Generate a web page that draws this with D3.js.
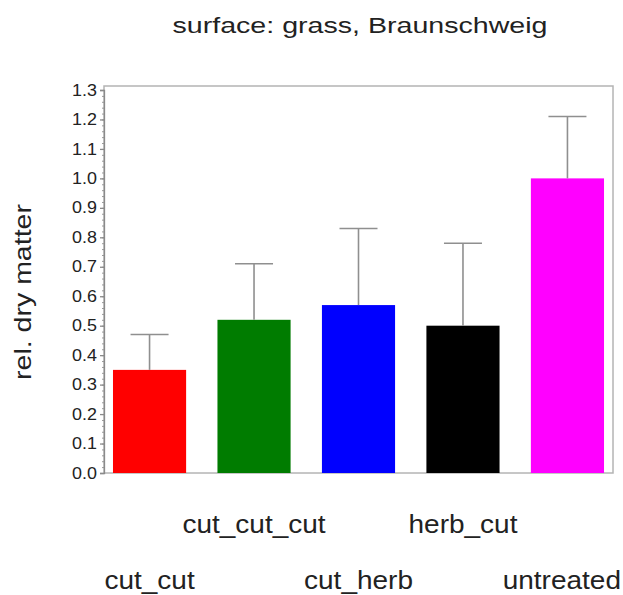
<!DOCTYPE html>
<html>
<head>
<meta charset="utf-8">
<script src="https://cdn.jsdelivr.net/npm/d3@7"></script>
<style>
  html, body { margin: 0; padding: 0; background: #fff; }
  svg { display: block; }
  text { font-family: "Liberation Sans", Arial, sans-serif; fill: #222; }
</style>
</head>
<body>
<svg id="chart" width="623" height="595"></svg>
<script>
// Treatments, their mean relative dry matter and upper error (sd)
const treatments = ["cut_cut", "cut_cut_cut", "cut_herb", "herb_cut", "untreated"];
const means = [0.35, 0.52, 0.57, 0.50, 1.00];
const sds = [0.12, 0.19, 0.26, 0.28, 0.21];
const barColors = ["#ff0000", "#007c00", "#0000ff", "#000000", "#ff00ff"];
const yTicks = [0.0, 0.1, 0.2, 0.3, 0.4, 0.5, 0.6, 0.7, 0.8, 0.9, 1.0, 1.1, 1.2, 1.3];
const titleText = "surface: grass, Braunschweig";
const yLabel = "rel. dry matter";

const W = 623;
const svg = d3.select("#chart");

const plot = { left: 104, right: 613, top: 86, bottom: 473 };

const x = d3.scaleBand()
  .domain(treatments)
  .range([plot.left, plot.right])
  .paddingInner(0.30)
  .paddingOuter(0.086);

const y = d3.scaleLinear()
  .domain([0, 1.3])
  .range([473, 90]);

// plot frame
svg.append("rect")
  .attr("x", plot.left).attr("y", plot.top)
  .attr("width", plot.right - plot.left)
  .attr("height", plot.bottom - plot.top)
  .attr("fill", "none")
  .attr("stroke", "#b4b4b4")
  .attr("stroke-width", 1.5);

// bars
svg.selectAll("rect.bar")
  .data(treatments)
  .join("rect")
  .attr("class", "bar")
  .attr("x", d => x(d))
  .attr("width", x.bandwidth())
  .attr("y", (d, i) => y(means[i]))
  .attr("height", (d, i) => y(0) - y(means[i]))
  .attr("fill", (d, i) => barColors[i]);

// upper error bars
const capHalf = 19;
const err = svg.append("g")
  .attr("stroke", "#8f8f8f")
  .attr("stroke-width", 1.6);
treatments.forEach((t, i) => {
  const cx = x(t) + x.bandwidth() / 2;
  err.append("line")
    .attr("x1", cx).attr("x2", cx)
    .attr("y1", y(means[i])).attr("y2", y(means[i] + sds[i]));
  err.append("line")
    .attr("x1", cx - capHalf).attr("x2", cx + capHalf)
    .attr("y1", y(means[i] + sds[i])).attr("y2", y(means[i] + sds[i]));
});

// y axis with minor ticks
const minorTicks = d3.range(0, 1.3001, 0.02);
svg.append("g")
  .attr("transform", `translate(${plot.left},0)`)
  .call(d3.axisLeft(y).tickValues(minorTicks).tickSize(2).tickFormat(""))
  .call(g => g.select(".domain").remove())
  .call(g => g.selectAll("line").attr("stroke", "#9a9a9a"));

const yAxis = svg.append("g")
  .attr("transform", `translate(${plot.left},0)`)
  .call(d3.axisLeft(y).tickValues(yTicks).tickSize(4).tickPadding(3).tickFormat(d3.format(".1f")));
yAxis.select(".domain").attr("stroke", "#8a8a8a").attr("stroke-width", 1.3);
yAxis.selectAll(".tick line").attr("stroke", "#8a8a8a").attr("stroke-width", 1.3);
yAxis.selectAll(".tick text")
  .attr("font-size", 16)
  .attr("fill", "#555")
  .style("font-family", "'Liberation Sans', Arial, sans-serif")
  .each(function () {
    const t = d3.select(this);
    const xx = +t.attr("x");
    t.attr("x", null)
     .attr("transform", `translate(${xx},0) scale(1.12,1)`);
  });

// category labels, staggered on two rows, kept inside the page
const rowBase = [533, 589];
const labelScale = 1.12;
svg.selectAll("text.cat")
  .data(treatments)
  .join("text")
  .attr("class", "cat")
  .attr("text-anchor", "middle")
  .attr("font-size", 25)
  .each(function (d, i) {
    const t = d3.select(this).text(d);
    let cx = x(d) + x.bandwidth() / 2;
    const half = this.getComputedTextLength() * labelScale / 2;
    if (cx + half > W - 2) cx = W - 2 - half;
    t.attr("transform", `translate(${cx},${rowBase[(i + 1) % 2]}) scale(${labelScale},1)`);
  });

// title
svg.append("text")
  .attr("text-anchor", "middle")
  .attr("font-size", 22)
  .attr("transform", "translate(360,33) scale(1.3,1)")
  .text(titleText);

// y axis title
svg.append("text")
  .attr("text-anchor", "middle")
  .attr("font-size", 23)
  .attr("transform", "translate(31,292) rotate(-90) scale(1.24,1)")
  .text(yLabel);
</script>
</body>
</html>
